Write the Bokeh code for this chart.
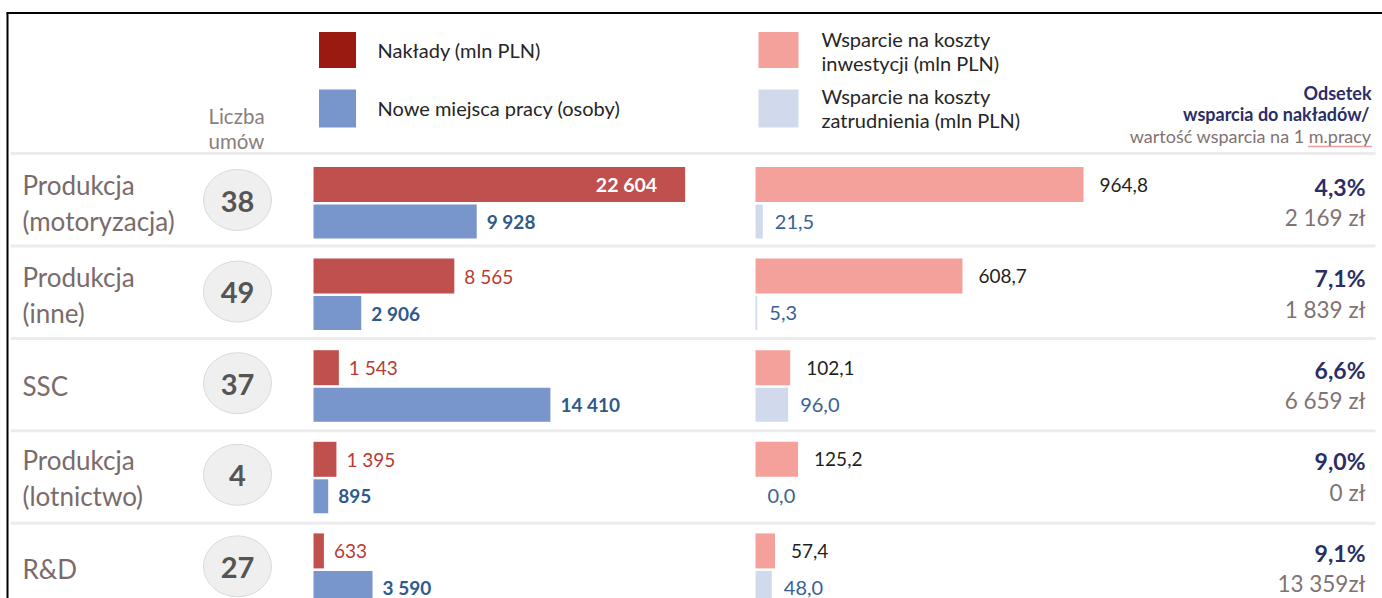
from bokeh.plotting import figure
from bokeh.models import Range1d, ColumnDataSource
from bokeh.core.properties import value
from bokeh.embed import file_html
from bokeh.resources import INLINE

# ---------------- data ----------------
cat_line1 = ["Produkcja", "Produkcja", "SSC", "Produkcja", "R&D"]
cat_line2 = ["(motoryzacja)", "(inne)", "", "(lotnictwo)", ""]
liczba_umow = [38, 49, 37, 4, 27]
naklady = [22604, 8565, 1543, 1395, 633]            # mln PLN
miejsca_pracy = [9928, 2906, 14410, 895, 3590]      # osoby
wsparcie_inwest = [964.8, 608.7, 102.1, 125.2, 57.4]  # mln PLN
wsparcie_zatr = [21.5, 5.3, 96.0, 0.0, 48.0]          # mln PLN
odsetek = [4.3, 7.1, 6.6, 9.0, 9.1]                  # %
na_miejsce = ["2 169 zł", "1 839 zł", "6 659 zł", "0 zł", "13 359zł"]

legend_left = ["Nakłady (mln PLN)", "Nowe miejsca pracy (osoby)"]
legend_right = [["Wsparcie na koszty", "inwestycji (mln PLN)"],
                ["Wsparcie na koszty", "zatrudnienia (mln PLN)"]]


def fmt_int(v):
    return f"{v:,}".replace(",", " ")


def fmt_dec(v):
    return f"{v:.1f}".replace(".", ",")


FONT = value("Lato")

# ---------------- figure (pixel-like layout frame) ----------------
W, H = 1382, 598
p = figure(width=W, height=H, output_backend="svg", toolbar_location=None,
           x_range=Range1d(0, W), y_range=Range1d(H, 0),
           x_axis_type=None, y_axis_type=None,
           min_border=0, min_border_left=0, min_border_right=0,
           min_border_top=0, min_border_bottom=0,
           outline_line_color=None, background_fill_color="white",
           border_fill_color="white")
p.grid.visible = False

# value scales for the two bar panels
L0, LS = 313, 0.01644     # left panel: zero at px 313, px per unit
R0, RS = 755, 0.340       # right panel
p.extra_x_ranges = {
    "L": Range1d(-L0 / LS, -L0 / LS + W / LS),
    "R": Range1d(-R0 / RS, -R0 / RS + W / RS),
}

n = len(cat_line1)
PITCH = 91.6
top_y = [184.0 + PITCH * i for i in range(n)]     # upper bar centre
bot_y = [t + 37 for t in top_y]                   # lower bar centre
mid_y = [t + 18.5 for t in top_y]

# frame lines
p.line(x=[6, W], y=[12.5, 12.5], line_color="black", line_width=2)
p.line(x=[7, 7], y=[12, H], line_color="black", line_width=2)

# separators
for yy in [153, 245.5, 337.9, 430.3, 522.7]:
    p.line(x=[10, 1375], y=[yy, yy], line_color="#ececec", line_width=3)

# ---------------- header ----------------
p.rect(x=[337, 337], y=[49.5, 108], width=37, height=[36, 38],
       fill_color=["#9a1a12", "#7895cc"], line_color=None)
p.text(x=[377, 377], y=[49.5, 107], text=legend_left, text_font=FONT,
       text_font_size="20px", text_color="#262626", text_baseline="middle")
p.rect(x=[778, 778], y=[49.5, 108], width=40, height=[36, 38],
       fill_color=["#f4a09b", "#d0daec"], line_color=None)
p.text(x=[821, 821, 821, 821], y=[38, 62, 95, 119],
       text=[legend_right[0][0], legend_right[0][1], legend_right[1][0], legend_right[1][1]],
       text_font=FONT, text_font_size="20px", text_color="#262626",
       text_baseline="middle")

p.text(x=[236, 236], y=[115, 140], text=["Liczba", "umów"], text_font=FONT,
       text_font_size="20.5px", text_color="#8a7e7e", text_align="center",
       text_baseline="middle")

p.text(x=[1371, 1369], y=[92, 113], text=["Odsetek", "wsparcia do nakładów/"],
       text_font=FONT, text_font_size="18px", text_font_style="bold",
       text_color="#2b2e66", text_align="right", text_baseline="middle")
p.text(x=[1371], y=[135], text=["wartość wsparcia na 1 m.pracy"],
       text_font=FONT, text_font_size="18px", text_color="#7f7373",
       text_align="right", text_baseline="middle")
p.line(x=[1308, 1371], y=[146, 146], line_color="#e03a3a", line_width=1.5,
       line_dash="1 1")

# ---------------- category labels & circles ----------------
l1_y, l2_y, l1_t, l2_t = [], [], [], []
for i in range(n):
    if cat_line2[i]:
        l1_y.append(mid_y[i] - 18); l1_t.append(cat_line1[i])
        l2_y.append(mid_y[i] + 18); l2_t.append(cat_line2[i])
    else:
        l1_y.append(mid_y[i]); l1_t.append(cat_line1[i])
p.text(x=[22] * len(l1_y), y=l1_y, text=l1_t, text_font=FONT,
       text_font_size="26px", text_color="#7a6b6b", text_baseline="middle")
p.text(x=[22] * len(l2_y), y=l2_y, text=l2_t, text_font=FONT,
       text_font_size="26px", text_color="#7a6b6b", text_baseline="middle")

p.ellipse(x=[237] * n, y=[m - 3 for m in mid_y], width=68, height=61,
          fill_color="#efefef", line_color="#d9d9d9", line_width=1)
p.text(x=[237] * n, y=[m - 2 for m in mid_y], text=[str(v) for v in liczba_umow],
       text_font=FONT, text_font_size="29px", text_font_style="bold",
       text_color="#555555", text_align="center", text_baseline="middle")

# ---------------- left panel bars ----------------
p.hbar(y=top_y, left=0, right=naklady, height=35, x_range_name="L",
       fill_color="#c0504d", line_color=None)
p.hbar(y=bot_y, left=0, right=miejsca_pracy, height=34, x_range_name="L",
       fill_color="#7895cc", line_color=None)

big = max(naklady) * 0.5
ins = ColumnDataSource(dict(x=[v for v in naklady if v > big],
                            y=[top_y[i] for i, v in enumerate(naklady) if v > big],
                            t=[fmt_int(v) for v in naklady if v > big]))
out = ColumnDataSource(dict(x=[v for v in naklady if v <= big],
                            y=[top_y[i] for i, v in enumerate(naklady) if v <= big],
                            t=[fmt_int(v) for v in naklady if v <= big]))
p.text(x="x", y="y", text="t", source=ins, x_range_name="L", x_offset=-28,
       text_font=FONT, text_font_size="19.5px", text_font_style="bold",
       text_color="white", text_align="right", text_baseline="middle")
p.text(x="x", y="y", text="t", source=out, x_range_name="L", x_offset=10,
       text_font=FONT, text_font_size="19px", text_color="#b83a33",
       text_baseline="middle")
p.text(x=miejsca_pracy, y=bot_y, text=[fmt_int(v) for v in miejsca_pracy],
       x_range_name="L", x_offset=10, text_font=FONT, text_font_size="19px",
       text_font_style="bold", text_color="#2f5a8c", text_baseline="middle")

# ---------------- right panel bars ----------------
p.hbar(y=top_y, left=0, right=wsparcie_inwest, height=35, x_range_name="R",
       fill_color="#f4a09b", line_color=None)
p.hbar(y=bot_y, left=0, right=wsparcie_zatr, height=34, x_range_name="R",
       fill_color="#d0daec", line_color=None)
p.text(x=wsparcie_inwest, y=top_y, text=[fmt_dec(v) for v in wsparcie_inwest],
       x_range_name="R", x_offset=16, text_font=FONT, text_font_size="19px",
       text_color="#1f1f1f", text_baseline="middle")
p.text(x=wsparcie_zatr, y=bot_y, text=[fmt_dec(v) for v in wsparcie_zatr],
       x_range_name="R", x_offset=12, text_font=FONT, text_font_size="20px",
       text_color="#3a6193", text_baseline="middle")

# ---------------- right column ----------------
p.text(x=[1365] * n, y=[t + 2 for t in top_y], text=[fmt_dec(v) + "%" for v in odsetek],
       text_font=FONT, text_font_size="23px", text_font_style="bold",
       text_color="#2b2e66", text_align="right", text_baseline="middle")
p.text(x=[1365] * n, y=[b - 4 for b in bot_y], text=na_miejsce,
       text_font=FONT, text_font_size="22.5px", text_color="#7f7373",
       text_align="right", text_baseline="middle")

open("out.html", "w").write(file_html(p, INLINE))
